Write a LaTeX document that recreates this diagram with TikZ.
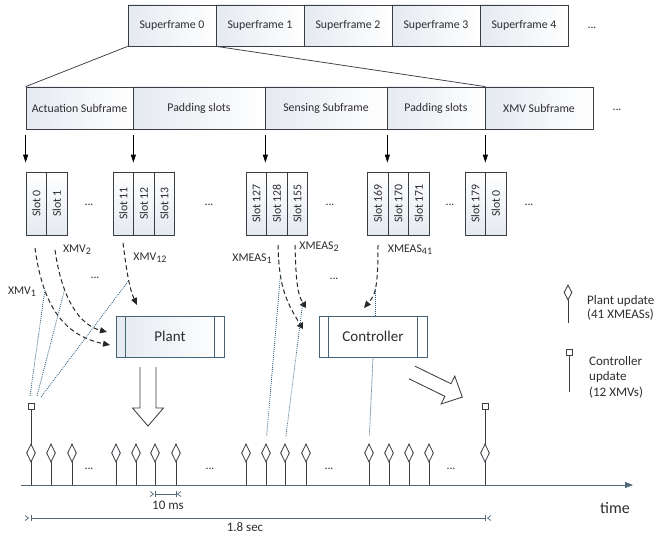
\documentclass[tikz,border=0pt]{standalone}
\usepackage{fontspec}
\setmainfont{Carlito}
\usetikzlibrary{arrows.meta,shapes.geometric,calc}
\definecolor{edgecol}{RGB}{58,62,68}
\definecolor{boxcol}{RGB}{70,98,118}
\definecolor{dotcol}{RGB}{40,90,125}
\definecolor{shadecol}{RGB}{229,234,240}
\definecolor{axiscol}{RGB}{78,104,122}
\definecolor{txtcol}{RGB}{45,45,50}
\newcommand{\lowsub}[1]{\raisebox{-0.35ex}{\fontsize{10}{10}\selectfont #1}}
\tikzset{
  every node/.style={text=txtcol},
  framebox/.style={draw=edgecol, line width=0.75pt, left color=shadecol, right color=white, minimum height=41pt, inner sep=0pt, font=\fontsize{11.8}{14}\selectfont},
  rowbox/.style={framebox, minimum height=42pt},
  slotbox/.style={draw=edgecol, line width=0.75pt, top color=white, bottom color=shadecol, minimum width=20.5pt, minimum height=63pt, inner sep=0pt, font=\fontsize{11.8}{14}\selectfont},
  dotsnode/.style={font=\fontsize{11.8}{14}\selectfont, inner sep=0pt},
  lbl/.style={font=\fontsize{11.8}{14}\selectfont, inner sep=0pt},
  procbox/.style={draw=boxcol, line width=0.85pt, minimum width=108pt, minimum height=41pt, inner sep=0pt, font=\fontsize{15}{18}\selectfont},
  downarr/.style={-{Triangle[width=5pt,length=8pt]}, draw=black, line width=0.75pt},
  sigdash/.style={draw=black!85, line width=1pt, dash pattern=on 4.5pt off 3pt},
  sigtip/.style={-{Triangle[width=6pt,length=7pt]}},
  dotline/.style={draw=dotcol, line width=0.8pt, dash pattern=on 0.9pt off 1.1pt},
  hollowarr/.style={draw=edgecol, line width=0.85pt, fill=white},
  stem/.style={draw=edgecol, line width=0.85pt},
  diam/.style={shape=diamond, draw=edgecol, line width=0.85pt, fill=white, minimum width=9pt, minimum height=18pt, inner sep=0pt},
  sqbox/.style={draw=edgecol, line width=0.85pt, fill=white, minimum size=6pt, inner sep=0pt},
  dimline/.style={draw=axiscol, line width=0.85pt},
}
\begin{document}
\begin{tikzpicture}[x=1pt,y=-1pt]
\useasboundingbox (0,0) rectangle (654,535);
\fill[white] (0,0) rectangle (654,535);

% ---- superframes
\node[framebox, minimum width=88pt] (sf0) at (172,25.5) {Superframe 0};
\node[framebox, minimum width=88pt] (sf1) at (260,25.5) {Superframe 1};
\node[framebox, minimum width=88pt] (sf2) at (348,25.5) {Superframe 2};
\node[framebox, minimum width=88pt] (sf3) at (436,25.5) {Superframe 3};
\node[framebox, minimum width=88pt] (sf4) at (524,25.5) {Superframe 4};
\node[dotsnode] (sfd) at (592,28) {...};

% ---- subframes
\node[rowbox, minimum width=107pt] (ract) at (79.5,108) {Actuation Subframe};
\node[rowbox, minimum width=132pt] (rpad1) at (199,108) {Padding slots};
\node[rowbox, minimum width=122pt] (rsens) at (326,108) {Sensing Subframe};
\node[rowbox, minimum width=98pt] (rpad2) at (436,108) {Padding slots};
\node[rowbox, minimum width=108pt] (rxmv) at (539,108) {XMV Subframe};
\node[dotsnode] (rd) at (617,110) {...};

\draw[edgecol, line width=0.75pt] (sf0.south west) -- (ract.north west);
\draw[edgecol, line width=0.75pt] (sf0.south east) -- (rpad2.north east);

% ---- slots
\node[slotbox] (s0) at (36.25,203.5) {\rotatebox{90}{Slot 0}};
\node[slotbox] (s1) at (56.75,203.5) {\rotatebox{90}{Slot 1}};
\node[slotbox] (s11) at (123.25,203.5) {\rotatebox{90}{Slot 11}};
\node[slotbox] (s12) at (143.75,203.5) {\rotatebox{90}{Slot 12}};
\node[slotbox] (s13) at (164.25,203.5) {\rotatebox{90}{Slot 13}};
\node[slotbox] (s127) at (256.25,203.5) {\rotatebox{90}{Slot 127}};
\node[slotbox] (s128) at (276.75,203.5) {\rotatebox{90}{Slot 128}};
\node[slotbox] (s155) at (297.25,203.5) {\rotatebox{90}{Slot 155}};
\node[slotbox] (s169) at (377.75,203.5) {\rotatebox{90}{Slot 169}};
\node[slotbox] (s170) at (398.25,203.5) {\rotatebox{90}{Slot 170}};
\node[slotbox] (s171) at (418.75,203.5) {\rotatebox{90}{Slot 171}};
\node[slotbox] (s179) at (475.25,203.5) {\rotatebox{90}{Slot 179}};
\node[slotbox] (s0b) at (495.75,203.5) {\rotatebox{90}{Slot 0}};
\node[dotsnode] (sd1) at (89,205) {...};
\node[dotsnode] (sd2) at (209,205) {...};
\node[dotsnode] (sd3) at (330,205) {...};
\node[dotsnode] (sd4) at (450,205) {...};
\node[dotsnode] (sd5) at (529,205) {...};

\draw[downarr, shorten <=6pt, shorten >=9pt] (ract.south west) -- (s0.north west);
\draw[downarr, shorten <=6pt, shorten >=9pt] (ract.south east) -- (ract.south east |- s12.north);
\draw[downarr, shorten <=6pt, shorten >=9pt] (rpad1.south east) -- (rpad1.south east |- s128.north);
\draw[downarr, shorten <=6pt, shorten >=9pt] (rsens.south east) -- (rsens.south east |- s170.north);
\draw[downarr, shorten <=6pt, shorten >=9pt] (rpad2.south east) -- (rpad2.south east |- s0b.north);

% ---- labels
\node[lbl] (lx1) at (22,292) {XMV\lowsub{1}};
\node[lbl] (lx2) at (77,250) {XMV\lowsub{2}};
\node[lbl] (lx12) at (150,258) {XMV\lowsub{12}};
\node[lbl] (lxd) at (95,278) {...};
\node[lbl] (lm1) at (252,259) {XMEAS\lowsub{1}};
\node[lbl] (lm2) at (319,247) {XMEAS\lowsub{2}};
\node[lbl] (lm41) at (410,250) {XMEAS\lowsub{41}};
\node[lbl] (lmd) at (334,279) {...};

% ---- plant and controller
\node[procbox, left color=shadecol, right color=white] (plant) at (170,336.5) {Plant};
\node[procbox, fill=white] (ctrl) at (373,336.5) {Controller};
\draw[boxcol, line width=0.85pt] ($(plant.north west)+(10,0)$) -- ($(plant.south west)+(10,0)$);
\draw[boxcol, line width=0.85pt] ($(plant.north east)+(-10,0)$) -- ($(plant.south east)+(-10,0)$);
\draw[boxcol, line width=0.85pt] ($(ctrl.north west)+(10,0)$) -- ($(ctrl.south west)+(10,0)$);
\draw[boxcol, line width=0.85pt] ($(ctrl.north east)+(-10,0)$) -- ($(ctrl.south east)+(-10,0)$);

% hollow arrows
\draw[hollowarr, shift={(148,367)}] (-8,0) -- (-8,41) -- (-15.5,41) -- (0,59) -- (15.5,41) -- (8,41) -- (8,0);
\draw[hollowarr, shift={(412,372.5)}, rotate=64] (-7,0) -- (-7,40) -- (-15.5,40) -- (0,56) -- (15.5,40) -- (7,40) -- (7,0);

% ---- timeline
\coordinate (ax0) at (21,485);
\coordinate (ax1) at (633,485);
\node[sqbox] (sqA) at (31,406) {};
\node[sqbox] (sqB) at (485,406) {};
\draw[stem] (sqA.south) -- (sqA.south |- ax0);
\draw[stem] (sqB.south) -- (sqB.south |- ax0);
\foreach \x in {51,72,116,136,155,176,246,266,285,306,369,389,409,429} {
  \node[diam] (dm\x) at (\x,453) {};
  \draw[stem] (dm\x.south) -- (dm\x.south |- ax0);
}
\node[diam] (dm31) at (31,453) {};
\node[diam] (dm485) at (485,453) {};
\draw[dimline, -{Triangle[width=6pt,length=8pt]}] (ax0) -- (ax1);
\node[dotsnode] (td1) at (89,469) {...};
\node[dotsnode] (td2) at (210,469) {...};
\node[dotsnode] (td3) at (329,469) {...};
\node[dotsnode] (td4) at (451,469) {...};
\node[font=\fontsize{16}{18}\selectfont, inner sep=0pt] (tm) at (615,508) {time};

% dimensions
\coordinate (ms0) at (155,494);
\coordinate (ms1) at (176,494);
\draw[dimline, line width=0.7pt] (ms0) -- (ms1);
\draw[dimline, line width=0.7pt] (ms0) ++(0,-3) -- ++(0,6);
\draw[dimline, line width=0.7pt] (ms1) ++(0,-3) -- ++(0,6);
\draw[dimline, line width=0.7pt] (ms0) ++(-5,-2.5) -- ++(3.5,2.5) -- ++(-3.5,2.5);
\draw[dimline, line width=0.7pt] (ms1) ++(5,-2.5) -- ++(-3.5,2.5) -- ++(3.5,2.5);
\node[font=\fontsize{13}{15}\selectfont, inner sep=0pt] (mst) at (168,505) {10 ms};

\coordinate (sc0) at (31,518);
\coordinate (sc1) at (485,518);
\draw[dimline] (sc0) -- (sc1);
\draw[dimline, line width=0.7pt] (sc0) ++(0,-3) -- ++(0,6);
\draw[dimline, line width=0.7pt] (sc1) ++(0,-3) -- ++(0,6);
\draw[dimline, line width=0.7pt] (sc0) ++(-6,-2.5) -- ++(3.5,2.5) -- ++(-3.5,2.5);
\draw[dimline, line width=0.7pt] (sc1) ++(6,-2.5) -- ++(-3.5,2.5) -- ++(3.5,2.5);
\node[font=\fontsize{13}{15}\selectfont, inner sep=0pt] (sct) at (245,527) {1.8 sec};

% ---- dashed signal curves
\coordinate (v1a) at (35,248);   \coordinate (v1b) at (110,345);
\coordinate (v2a) at (55,250);   \coordinate (v2b) at (107,332);
\coordinate (v12a) at (123,243); \coordinate (v12b) at (137,305);
\draw[sigdash, sigtip] (v1a) .. controls (42,300) and (60,335) .. (v1b) coordinate[pos=0.3] (v1m);
\draw[sigdash, sigtip] (v2a) .. controls (62,300) and (80,325) .. (v2b) coordinate[pos=0.31] (v2m);
\draw[sigdash, sigtip] (v12a) .. controls (127,275) and (130,290) .. (v12b) coordinate[pos=0.5] (v12m);

\coordinate (m1a) at (278,245);  \coordinate (m1b) at (303,329);
\coordinate (m2a) at (295,245);  \coordinate (m2b) at (306,308);
\coordinate (m41a) at (378,245); \coordinate (m41b) at (364,308);
\draw[sigdash, -{Triangle[width=7pt,length=6pt]}] (m1a) .. controls (279,285) and (285,300) .. (m1b) coordinate[pos=0.3] (m1m);
\draw[sigdash, -{Triangle[width=7pt,length=6pt]}] (m2a) .. controls (296,285) and (298,295) .. (m2b) coordinate[pos=0.85] (m2m);
\draw[sigdash, sigtip] (m41a) .. controls (378,290) and (375,295) .. (m41b) coordinate[pos=0.5] (m41m);

% ---- dotted timing lines
\coordinate (sqt1) at (30,396);
\coordinate (sqt2) at (37,396);
\coordinate (sqt3) at (41,397);
\draw[dotline] (sqt1) -- (v1m);
\draw[dotline] (sqt2) -- (v2m);
\draw[dotline] (sqt3) -- (v12m);
\draw[dotline, shorten >=7pt] (m1m) -- (dm266.north);
\draw[dotline, shorten >=7pt] (m2m) -- (dm285.north);
\draw[dotline] (m41m) -- (m41m |- ctrl.north);
\draw[dotline, shorten >=8pt] (ctrl.south) -- (dm369.north);

% ---- legend
\node[diam, minimum height=15pt, minimum width=8pt] (lgd) at (568,292.5) {};
\coordinate (lgdb) at (568,323);
\draw[stem] (lgd.south) -- (lgdb);
\node[font=\fontsize{13}{14}\selectfont, align=left, anchor=west, inner sep=0pt] (lgdt) at (587,308) {Plant update\\(41 XMEASs)};
\node[sqbox] (lgs) at (569,352) {};
\coordinate (lgsb) at (569,392);
\draw[stem] (lgs.south) -- (lgsb);
\node[font=\fontsize{13}{15.5}\selectfont, align=left, anchor=west, inner sep=0pt] (lgst) at (589,377) {Controller\\update\\(12 XMVs)};
\end{tikzpicture}
\end{document}
